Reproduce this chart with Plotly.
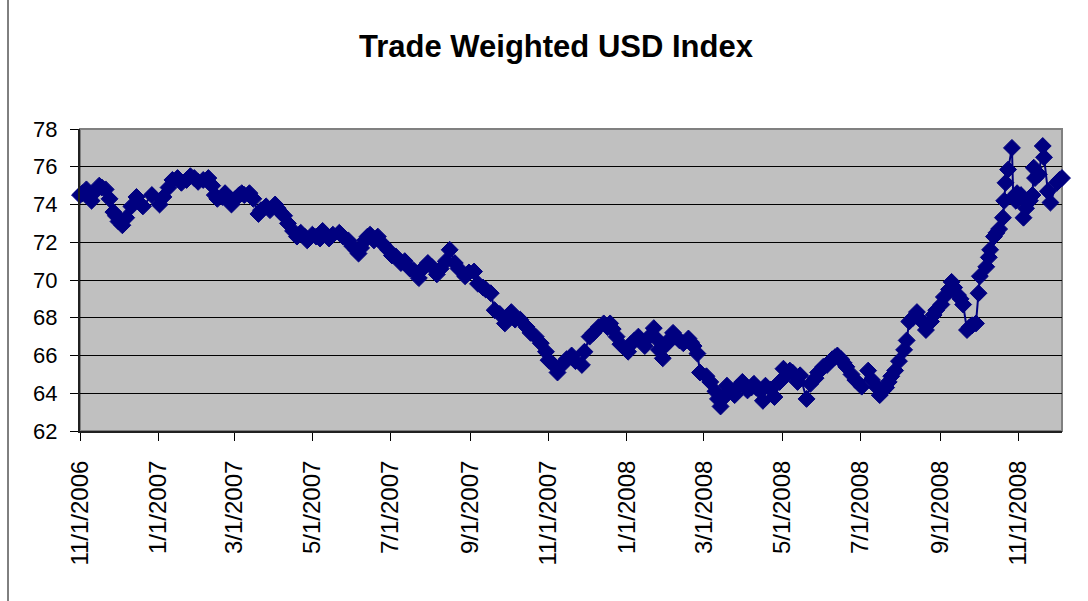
import plotly.graph_objects as go

dates = [
    "2006-11-01", "2006-11-03", "2006-11-06", "2006-11-08", "2006-11-10", "2006-11-13", "2006-11-16", "2006-11-18",
    "2006-11-21", "2006-11-24", "2006-11-27", "2006-11-29", "2006-12-01", "2006-12-04", "2006-12-07", "2006-12-11",
    "2006-12-15", "2006-12-20", "2006-12-27", "2007-01-02", "2007-01-05", "2007-01-09", "2007-01-12", "2007-01-16",
    "2007-01-19", "2007-01-23", "2007-01-26", "2007-01-29", "2007-02-01", "2007-02-05", "2007-02-09", "2007-02-12",
    "2007-02-14", "2007-02-16", "2007-02-20", "2007-02-22", "2007-02-26", "2007-02-27", "2007-03-02", "2007-03-05",
    "2007-03-07", "2007-03-09", "2007-03-13", "2007-03-16", "2007-03-20", "2007-03-22", "2007-03-26", "2007-03-29",
    "2007-04-02", "2007-04-04", "2007-04-06", "2007-04-09", "2007-04-12", "2007-04-16", "2007-04-19", "2007-04-22",
    "2007-04-25", "2007-04-27", "2007-05-01", "2007-05-04", "2007-05-07", "2007-05-09", "2007-05-11", "2007-05-14",
    "2007-05-17", "2007-05-22", "2007-05-25", "2007-05-29", "2007-06-01", "2007-06-04", "2007-06-06", "2007-06-08",
    "2007-06-11", "2007-06-13", "2007-06-15", "2007-06-18", "2007-06-21", "2007-06-25", "2007-06-29", "2007-07-02",
    "2007-07-05", "2007-07-09", "2007-07-12", "2007-07-16", "2007-07-19", "2007-07-23", "2007-07-26", "2007-07-30",
    "2007-08-02", "2007-08-06", "2007-08-09", "2007-08-13", "2007-08-16", "2007-08-20", "2007-08-23", "2007-08-28",
    "2007-08-31", "2007-09-04", "2007-09-07", "2007-09-11", "2007-09-13", "2007-09-17", "2007-09-20", "2007-09-24",
    "2007-09-28", "2007-10-01", "2007-10-03", "2007-10-06", "2007-10-10", "2007-10-15", "2007-10-18", "2007-10-22",
    "2007-10-26", "2007-10-30", "2007-11-01", "2007-11-05", "2007-11-08", "2007-11-13", "2007-11-15", "2007-11-19",
    "2007-11-22", "2007-11-27", "2007-11-29", "2007-12-03", "2007-12-06", "2007-12-10", "2007-12-14", "2007-12-17",
    "2007-12-19", "2007-12-21", "2007-12-24", "2007-12-27", "2008-01-02", "2008-01-04", "2008-01-07", "2008-01-10",
    "2008-01-15", "2008-01-17", "2008-01-22", "2008-01-24", "2008-01-26", "2008-01-29", "2008-02-01", "2008-02-04",
    "2008-02-06", "2008-02-08", "2008-02-11", "2008-02-14", "2008-02-18", "2008-02-20", "2008-02-22", "2008-02-25",
    "2008-02-27", "2008-03-03", "2008-03-06", "2008-03-10", "2008-03-12", "2008-03-14", "2008-03-17", "2008-03-19",
    "2008-03-21", "2008-03-25", "2008-03-27", "2008-03-31", "2008-04-02", "2008-04-04", "2008-04-07", "2008-04-09",
    "2008-04-11", "2008-04-14", "2008-04-16", "2008-04-18", "2008-04-22", "2008-04-25", "2008-04-29", "2008-05-02",
    "2008-05-05", "2008-05-07", "2008-05-09", "2008-05-13", "2008-05-15", "2008-05-20", "2008-05-23", "2008-05-27",
    "2008-05-29", "2008-06-02", "2008-06-05", "2008-06-09", "2008-06-11", "2008-06-13", "2008-06-16", "2008-06-18",
    "2008-06-20", "2008-06-24", "2008-06-27", "2008-07-02", "2008-07-07", "2008-07-10", "2008-07-14", "2008-07-16",
    "2008-07-18", "2008-07-21", "2008-07-23", "2008-07-25", "2008-07-28", "2008-07-31", "2008-08-04", "2008-08-06",
    "2008-08-08", "2008-08-11", "2008-08-14", "2008-08-18", "2008-08-21", "2008-08-25", "2008-08-27", "2008-08-29",
    "2008-09-02", "2008-09-04", "2008-09-08", "2008-09-10", "2008-09-12", "2008-09-15", "2008-09-17", "2008-09-19",
    "2008-09-22", "2008-09-24", "2008-09-26", "2008-09-29", "2008-10-01", "2008-10-02", "2008-10-07", "2008-10-09",
    "2008-10-10", "2008-10-13", "2008-10-15", "2008-10-17", "2008-10-20", "2008-10-21", "2008-10-22", "2008-10-24",
    "2008-10-27", "2008-10-28", "2008-10-30", "2008-10-31", "2008-11-03", "2008-11-05", "2008-11-07", "2008-11-10",
    "2008-11-12", "2008-11-13", "2008-11-14", "2008-11-17", "2008-11-20", "2008-11-21", "2008-11-24", "2008-11-26",
    "2008-12-01", "2008-12-03", "2008-12-05",
]

usd_index = [
    74.5, 74.6, 74.8, 74.5, 74.2, 74.7, 75.0, 74.9,
    74.8, 74.3, 73.6, 73.4, 73.1, 72.9, 73.3, 73.9,
    74.4, 73.9, 74.5, 74.0, 74.4, 74.9, 75.3, 75.4,
    75.15, 75.3, 75.5, 75.4, 75.2, 75.3, 75.4, 75.0,
    74.5, 74.3, 74.4, 74.6, 74.3, 74.0, 74.3, 74.5,
    74.6, 74.5, 74.6, 74.3, 73.5, 73.7, 73.9, 73.7,
    74.0, 73.8, 73.6, 73.4, 73.0, 72.6, 72.3, 72.5,
    72.3, 72.1, 72.4, 72.3, 72.2, 72.6, 72.4, 72.2,
    72.4, 72.5, 72.3, 72.1, 71.8, 71.6, 71.4, 71.7,
    72.1, 72.3, 72.4, 72.1, 72.3, 71.9, 71.6, 71.3,
    71.25, 70.9, 71.0, 70.6, 70.5, 70.1, 70.6, 70.9,
    70.7, 70.3, 70.6, 71.0, 71.6, 70.9, 70.6, 70.2,
    70.4, 70.45, 69.8, 69.6, 69.5, 69.3, 68.4, 68.2,
    67.7, 68.0, 68.3, 67.9, 67.9, 67.5, 67.2, 67.0,
    66.65, 66.2, 65.75, 65.5, 65.1, 65.6, 65.8, 66.0,
    65.7, 65.5, 66.2, 67.0, 67.2, 67.5, 67.7, 67.5,
    67.7, 67.4, 67.0, 66.6, 66.2, 66.6, 66.8, 67.0,
    66.5, 66.9, 67.45, 66.9, 66.3, 65.85, 66.6, 66.9,
    67.2, 67.0, 66.8, 66.65, 66.9, 66.7, 66.5, 66.1,
    65.1, 64.9, 64.6, 64.1, 63.7, 63.3, 63.8, 64.4,
    64.1, 63.9, 64.3, 64.6, 64.4, 64.15, 64.3, 64.5,
    64.3, 64.1, 63.6, 64.4, 64.2, 63.8, 64.6, 65.3,
    65.0, 65.2, 65.1, 64.6, 64.95, 63.7, 64.5, 64.8,
    65.1, 65.4, 65.5, 65.8, 65.9, 66.0, 65.8, 65.6,
    65.4, 65.0, 64.7, 64.35, 65.2, 64.7, 64.3, 63.9,
    64.1, 64.3, 64.6, 64.9, 65.2, 65.7, 66.3, 66.8,
    67.8, 68.0, 68.3, 67.8, 67.35, 67.8, 68.15, 68.4,
    68.7, 69.1, 69.5, 69.9, 69.6, 69.2, 69.0, 68.7,
    67.35, 67.5, 67.6, 67.7, 69.3, 70.2, 70.7, 71.2,
    71.6, 72.3, 72.5, 72.7, 73.3, 74.2, 75.15, 75.85,
    77.0, 74.4, 74.2, 74.6, 74.5, 73.3, 73.8, 74.2,
    74.5, 75.95, 75.4, 75.6, 77.1, 76.5, 74.7, 74.1,
    75.15, 75.3, 75.4,
]

tick_dates = [
    "2006-11-01", "2007-01-01", "2007-03-01", "2007-05-01", "2007-07-01", "2007-09-01",
    "2007-11-01", "2008-01-01", "2008-03-01", "2008-05-01", "2008-07-01", "2008-09-01",
    "2008-11-01",
]
tick_labels = [
    "11/1/2006", "1/1/2007", "3/1/2007", "5/1/2007", "7/1/2007", "9/1/2007",
    "11/1/2007", "1/1/2008", "3/1/2008", "5/1/2008", "7/1/2008", "9/1/2008",
    "11/1/2008",
]

FONT = "Arial, Liberation Sans, sans-serif"
NAVY = "#000080"

fig = go.Figure()
fig.add_trace(go.Scatter(
    x=dates, y=usd_index, mode="lines+markers",
    line=dict(color=NAVY, width=2),
    marker=dict(symbol="diamond", size=13, color=NAVY, line=dict(color=NAVY, width=1)),
    cliponaxis=False,
    showlegend=False,
))

fig.update_layout(
    width=1088, height=601,
    margin=dict(l=80, r=26, t=129, b=170),
    paper_bgcolor="white",
    plot_bgcolor="#C0C0C0",
    title=dict(text="<b>Trade Weighted USD Index</b>", x=556 / 1088, xanchor="center",
               y=1 - 46 / 601, yanchor="middle", yref="container",
               font=dict(family=FONT, size=31, color="black")),
    font=dict(family=FONT, color="black"),
)

fig.update_xaxes(
    type="date", range=[dates[0], dates[-1]],
    tickmode="array", tickvals=tick_dates, ticktext=tick_labels,
    tickangle=-90, tickfont=dict(family=FONT, size=24, color="black"),
    ticks="outside", ticklen=8, tickcolor="black", tickwidth=1,
    showline=True, linecolor="#202020", linewidth=2,
    showgrid=False, zeroline=False, ticklabelstandoff=10,
)
fig.update_yaxes(
    range=[62, 78], dtick=2, tick0=62,
    tickfont=dict(family=FONT, size=22, color="black"),
    ticks="outside", ticklen=8, tickcolor="black", tickwidth=1,
    showline=True, linecolor="#202020", linewidth=2,
    showgrid=True, gridcolor="black", gridwidth=1, zeroline=False,
    ticklabelstandoff=8,
)

# plot-area border (top/right gray, like Excel)
fig.add_shape(type="rect", xref="paper", yref="paper", x0=0, x1=1, y0=0, y1=1,
              line=dict(color="#808080", width=2), layer="below")
# chart-area frame (left edge)
fig.add_shape(type="line", xref="paper", yref="paper",
              x0=(8 - 80) / 982, x1=(8 - 80) / 982,
              y0=(431 - 640) / 302, y1=(431 - 0) / 302,
              line=dict(color="black", width=1), layer="below")

fig.write_html("out.html", config={"displayModeBar": False},
               post_script="document.body.style.margin='0';")
